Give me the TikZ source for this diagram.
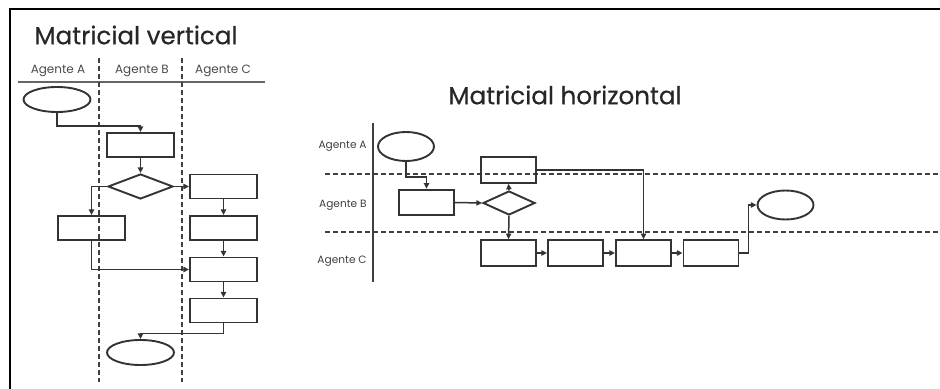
\documentclass[tikz,border=0pt]{standalone}
\usepackage{fontspec}
\setmainfont{Poppins}
\newfontfamily\ttlfont[FakeBold=0.5]{Poppins}
\usetikzlibrary{shapes.geometric,arrows.meta,calc}
\begin{document}
\begin{tikzpicture}[x=0.5pt,y=-0.5pt,
  ln/.style={draw=black!80,line width=0.75pt},
  arr/.style={ln,-{Triangle[length=2.8pt,width=2.6pt]}},
  boxv/.style={ln,line width=0.95pt,rectangle,minimum width=33.5pt,minimum height=12pt,inner sep=0pt},
  boxh/.style={ln,line width=0.95pt,rectangle,minimum width=27.5pt,minimum height=12.8pt,inner sep=0pt},
  ellv/.style={ln,line width=0.95pt,ellipse,minimum width=33.5pt,minimum height=12.5pt,inner sep=0pt},
  ellh/.style={ln,line width=0.95pt,ellipse,minimum width=28pt,minimum height=14.5pt,inner sep=0pt},
  diav/.style={ln,line width=0.95pt,diamond,aspect=2.6,minimum width=32.5pt,minimum height=12.5pt,inner sep=0pt},
  diah/.style={ln,line width=0.95pt,diamond,aspect=2.2,minimum width=26pt,minimum height=12pt,inner sep=0pt},
  dsh/.style={draw=black!75,line width=0.9pt,dash pattern=on 2.5pt off 1.5pt},
  ttl/.style={text=black!85,font=\ttlfont\fontsize{12.3}{14}\selectfont,inner sep=0pt},
  hdr/.style={text=black!70,font=\fontsize{6}{7}\selectfont,inner sep=0pt},
  lbl/.style={text=black!75,font=\fontsize{5.3}{6}\selectfont,inner sep=0pt}]
\useasboundingbox (0,0) rectangle (940,389);
\fill[white] (0,0) rectangle (940,389);
% frame
\draw[line width=1.2pt,black] (10,389) -- (10,9) -- (940,9);

% ---------- Matricial vertical ----------
\node[ttl] (tv) at (136,35) {Matricial vertical};
\node[hdr] (ha) at (58,71) {Agente A};
\node[hdr] (hbv) at (142,71) {Agente B};
\node[hdr] (hcv) at (223,71) {Agente C};
\draw[draw=black!60,line width=0.7pt] (18,82) -- (265,82);
\draw[dsh] (99,58) -- (99,382);
\draw[dsh] (182,58) -- (182,382);

\node[ellv] (sv) at (57,99.5) {};
\node[boxv] (b1) at (140.5,145) {};
\node[diav] (d1) at (140.5,186.5) {};
\node[boxv] (a1) at (91.5,228) {};
\node[boxv] (c1) at (223.5,186.5) {};
\node[boxv] (c2) at (223.5,228) {};
\node[boxv] (c3) at (223.5,269.5) {};
\node[boxv] (c4) at (223.5,310.5) {};
\node[ellv] (ev) at (140.5,352.5) {};

\draw[arr] (sv.south) -- ++(0,13) -| (b1.north);
\draw[arr] (b1.south) -- (d1.north);
\draw[arr] (d1.west) -| (a1.north);
\draw[arr] (d1.east) -- (c1.west);
\draw[arr] (c1.south) -- (c2.north);
\draw[arr] (c2.south) -- (c3.north);
\draw[arr] (c3.south) -- (c4.north);
\draw[arr] (a1.south) |- (c3.west);
\draw[arr] (c4.south) -- ++(0,10) -| (ev.north);

% ---------- Matricial horizontal ----------
\node[ttl] (th) at (565,95) {Matricial horizontal};
\draw[draw=black!75,line width=0.7pt] (373,123) -- (373,282);
\node[lbl,anchor=east] (la) at (367,146) {Agente A};
\node[lbl,anchor=east] (lb) at (367,205) {Agente B};
\node[lbl,anchor=east] (lc) at (367,261) {Agente C};
\draw[dsh] (325,174) -- (940,174);
\draw[dsh] (325,232) -- (940,232);

\node[ellh] (sh) at (406,146.5) {};
\node[boxh] (hb1) at (426.5,202.5) {};
\node[diah] (hd) at (509,203) {};
\node[boxh] (ha2) at (508.5,170) {};
\node[boxh] (hc1) at (508.5,253) {};
\node[boxh] (hc2) at (575.5,253) {};
\node[boxh] (hc3) at (643.5,253) {};
\node[boxh] (hc4) at (711,253) {};
\node[ellh] (he) at (785.5,205) {};

\draw[arr] (sh.south) -- ++(0,15) -| (hb1.north);
\draw[arr] (hb1.east) -- (hd.west);
\draw[arr] (hd.north) -- (ha2.south);
\draw[arr] (hd.south) -- (hc1.north);
\draw[arr] (hc1.east) -- (hc2.west);
\draw[arr] (hc2.east) -- (hc3.west);
\draw[arr] (hc3.east) -- (hc4.west);
\draw[arr] (ha2.east) -| (hc3.north);
\draw[arr] (hc4.east) -- ++(9,0) |- (he.west);
\end{tikzpicture}
\end{document}
